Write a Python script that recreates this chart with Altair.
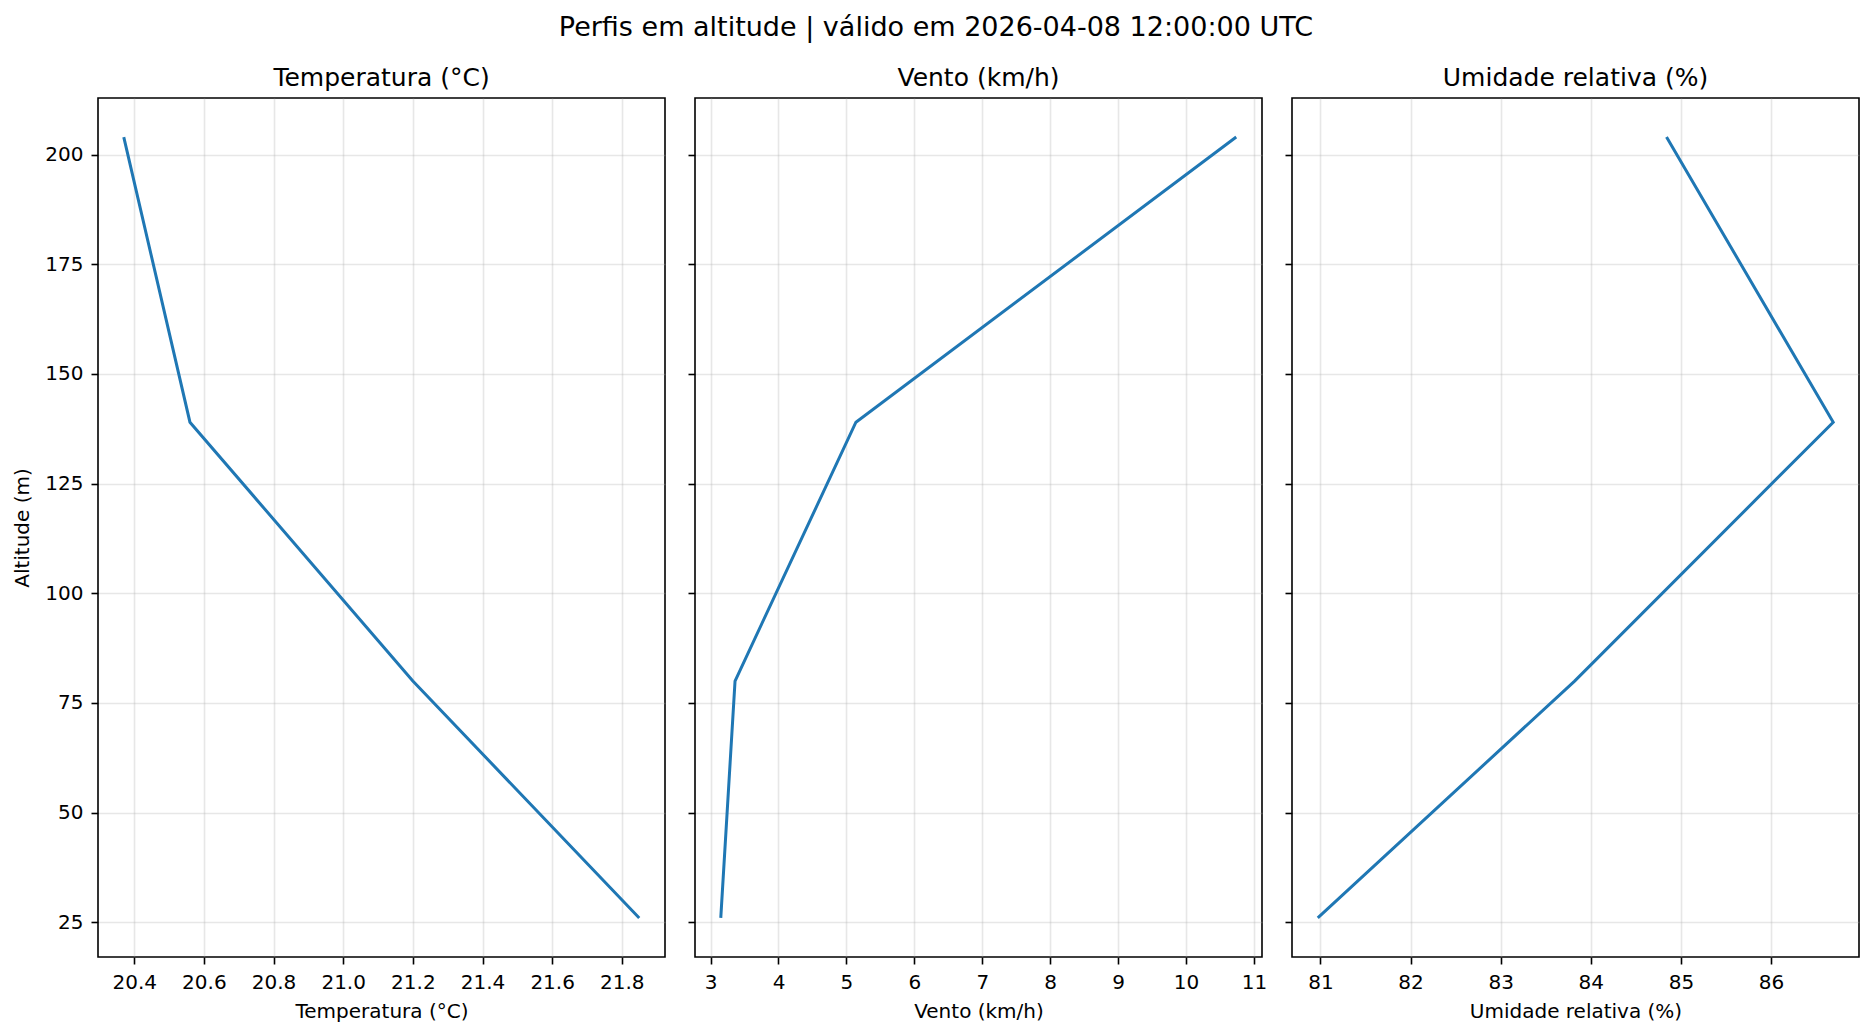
import altair as alt
import pandas as pd

altitude = [26, 80, 139, 204]
temperatura = [21.85, 21.20, 20.56, 20.37]
vento = [3.15, 3.36, 5.14, 10.74]
umidade = [80.97, 83.82, 86.69, 84.84]

y_ticks = [25, 50, 75, 100, 125, 150, 175, 200]
temp_ticks = [20.4, 20.6, 20.8, 21.0, 21.2, 21.4, 21.6, 21.8]
vento_ticks = [3, 4, 5, 6, 7, 8, 9, 10, 11]
umid_ticks = [81, 82, 83, 84, 85, 86]

FONT = "DejaVu Sans"
W, H = 567, 859


def padded(vals, m=0.05):
    lo, hi = min(vals), max(vals)
    r = hi - lo
    return [lo - m * r, hi + m * r]


y_dom = padded(altitude)


def panel(values, name, ticks, fmt, first):
    df = pd.DataFrame({"alt": altitude, "v": values})
    yaxis = alt.Axis(
        values=y_ticks,
        labels=first,
        title="Altitude (m)" if first else None,
        format="d",
    )
    return (
        alt.Chart(df, title=alt.TitleParams(name))
        .mark_line(color="#1f77b4", strokeWidth=3)
        .encode(
            x=alt.X("v:Q", title=name,
                    scale=alt.Scale(domain=padded(values), nice=False, zero=False),
                    axis=alt.Axis(values=ticks, format=fmt)),
            y=alt.Y("alt:Q",
                    scale=alt.Scale(domain=y_dom, nice=False, zero=False),
                    axis=yaxis),
            order=alt.Order("alt:Q"),
        )
        .properties(width=W, height=H)
    )


c1 = panel(temperatura, "Temperatura (°C)", temp_ticks, ".1f", True)
c2 = panel(vento, "Vento (km/h)", vento_ticks, "d", False)
c3 = panel(umidade, "Umidade relativa (%)", umid_ticks, "d", False)

chart = (
    alt.hconcat(c1, c2, c3, spacing=30, bounds="flush")
    .properties(
        title=alt.TitleParams(
            "Perfis em altitude | válido em 2026-04-08 12:00:00 UTC",
            fontSize=27, font=FONT, fontWeight="normal", color="black",
            anchor="middle", offset=2, baseline="alphabetic",
        ),
        padding={"left": 4, "top": 6, "right": 0, "bottom": 0},
        background="white",
    )
    .configure_view(stroke="black", strokeWidth=1.6)
    .configure_title(font=FONT, fontSize=25, fontWeight="normal", color="black",
                     offset=7, baseline="alphabetic")
    .configure_axis(
        labelFont=FONT, labelFontSize=20, labelColor="black",
        titleFont=FONT, titleFontSize=20, titleFontWeight="normal", titleColor="black",
        domain=False,
        tickColor="black", tickSize=7, tickWidth=1.6,
        labelPadding=8,
        grid=True, gridColor="#b0b0b0", gridOpacity=0.3, gridWidth=1.6,
    )
    .configure_axisY(titlePadding=12)
    .configure_axisX(titlePadding=9)
)

chart.save("out.html", embed_options={"renderer": "svg", "actions": False})
